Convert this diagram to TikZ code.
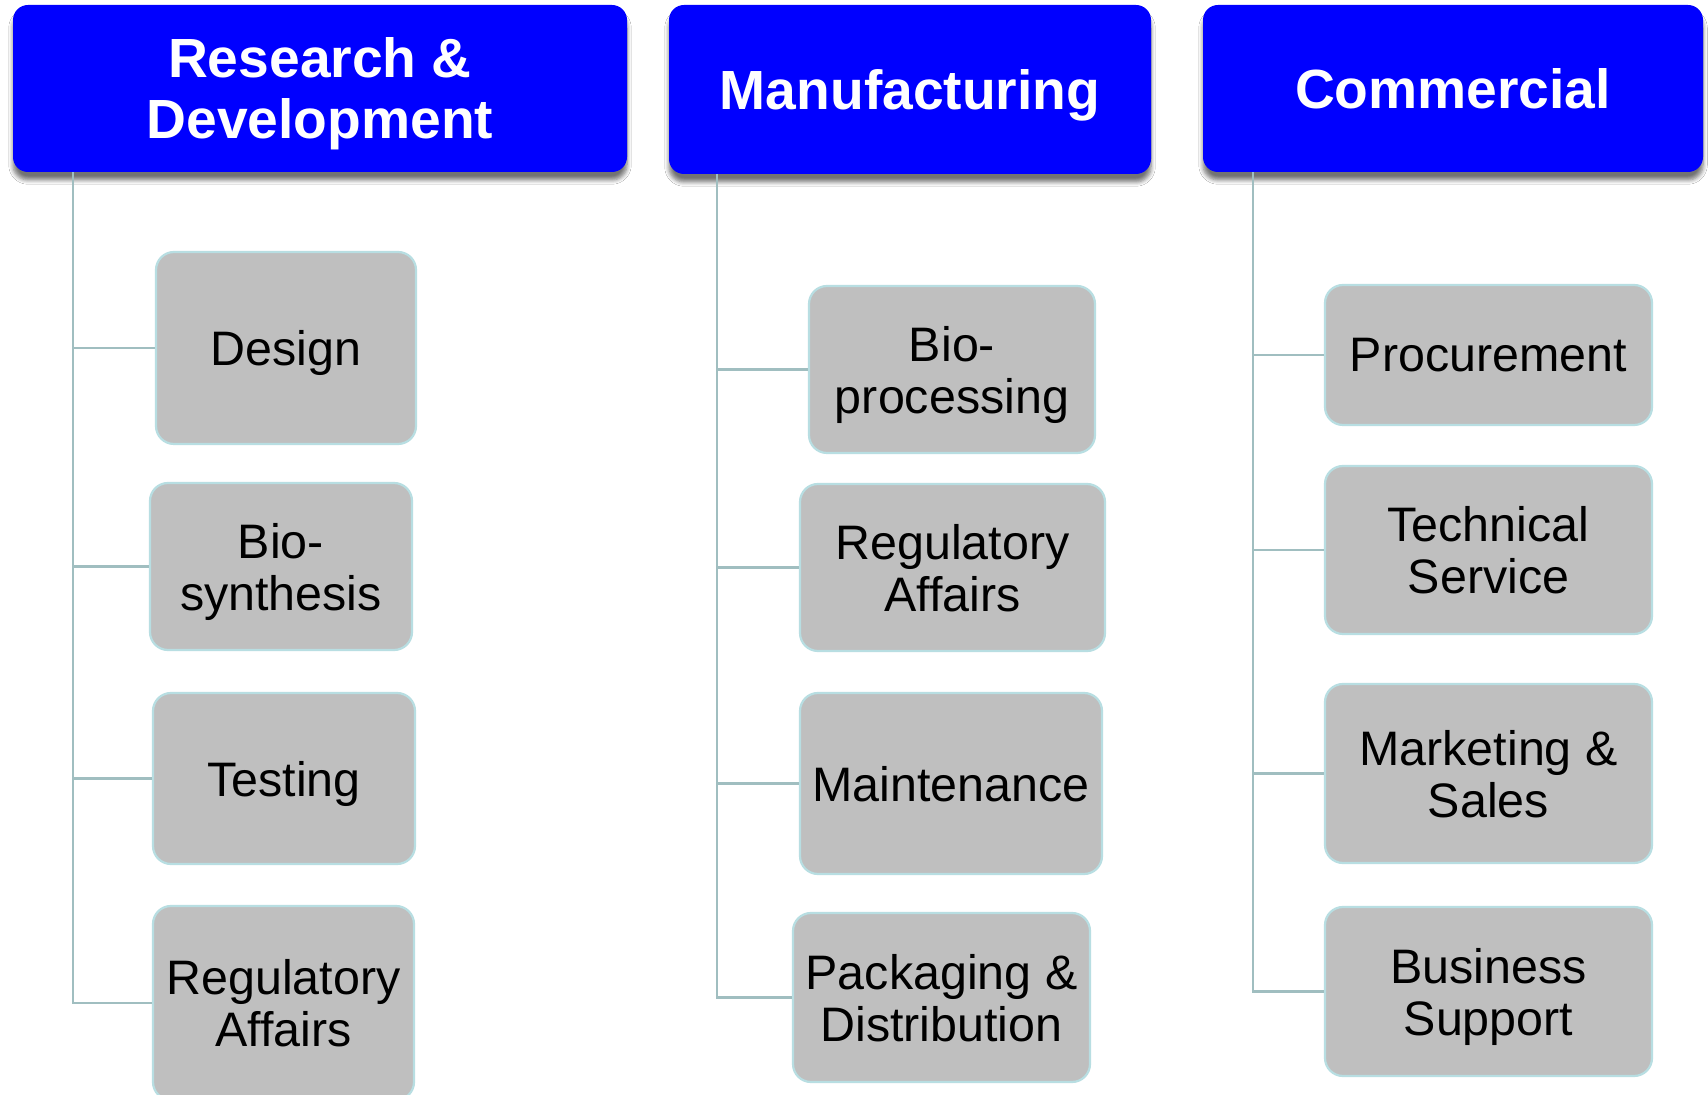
\documentclass[tikz,border=0pt]{standalone}
\usepackage{fontspec}
\setmainfont{Liberation Sans}
\usetikzlibrary{shadows.blur}
\definecolor{hdrblue}{RGB}{0,0,255}
\definecolor{boxgray}{RGB}{191,191,191}
\definecolor{boxedge}{RGB}{184,222,226}
\definecolor{connclr}{RGB}{160,190,192}
\tikzset{
  hdr/.style={draw=none, fill=hdrblue, rounded corners=7.5pt, inner sep=0pt, text depth=0pt,
    text=white, align=center, font=\fontsize{27.6}{30.5}\selectfont\bfseries,
    blur shadow={shadow xshift=0pt, shadow yshift=-4pt, shadow blur steps=6, shadow opacity=55}},
  item/.style={draw=boxedge, line width=1.1pt, fill=boxgray, rounded corners=9pt, inner sep=0pt, text depth=0pt,
    text=black, align=center, font=\fontsize{24.2}{26}\selectfont},
  conn/.style={draw=connclr, line width=1.3pt}
}
\begin{document}
\begin{tikzpicture}[x=0.5pt,y=-0.5pt]
\useasboundingbox (0,0) rectangle (1708,1095);
\fill[white] (0,0) rectangle (1708,1095);
% headers
\node[hdr, minimum width=307pt, minimum height=83.5pt] (rd) at (320,88.5) {Research \&\\Development};
\node[hdr, minimum width=241pt, minimum height=84.5pt] (mf) at (910,89.5) {Manufacturing};
\node[hdr, minimum width=250pt, minimum height=83.5pt] (cm) at (1453,88.5) {Commercial};
% trunk tops
\coordinate (rdt) at (73,172);
\coordinate (mft) at (717,174);
\coordinate (cmt) at (1253,172);
% R&D items
\node[item, minimum width=130pt, minimum height=96pt] (design) at (286,348) {Design};
\node[item, minimum width=131pt, minimum height=83.5pt] (biosyn) at (281,566.5) {Bio-\\synthesis};
\node[item, minimum width=131pt, minimum height=85.5pt] (testing) at (284,778.5) {Testing};
\node[item, minimum width=130.5pt, minimum height=97pt] (regrd) at (283.5,1003) {Regulatory\\Affairs};
% Manufacturing items
\node[item, minimum width=143pt, minimum height=83.5pt] (bioproc) at (952,369.5) {Bio-\\processing};
\node[item, minimum width=152.5pt, minimum height=83.5pt] (regmf) at (952.5,567.5) {Regulatory\\Affairs};
\node[item, minimum width=151pt, minimum height=90.5pt] (maint) at (951,783.5) {Maintenance};
\node[item, minimum width=148.5pt, minimum height=84.5pt] (packdist) at (941.5,997.5) {Packaging \&\\Distribution};
% Commercial items
\node[item, minimum width=163.5pt, minimum height=70pt] (procure) at (1488.5,355) {Procurement};
\node[item, minimum width=163.5pt, minimum height=84pt] (techserv) at (1488.5,550) {Technical\\Service};
\node[item, minimum width=163.5pt, minimum height=89.5pt] (marksales) at (1488.5,773.5) {Marketing \&\\Sales};
\node[item, minimum width=163.5pt, minimum height=84.5pt] (bussupp) at (1488.5,991.5) {Business\\Support};
% connectors
\draw[conn] (rdt) |- (regrd.west);
\draw[conn] (rdt |- design.west) -- (design.west);
\draw[conn] (rdt |- biosyn.west) -- (biosyn.west);
\draw[conn] (rdt |- testing.west) -- (testing.west);
\draw[conn] (mft) |- (packdist.west);
\draw[conn] (mft |- bioproc.west) -- (bioproc.west);
\draw[conn] (mft |- regmf.west) -- (regmf.west);
\draw[conn] (mft |- maint.west) -- (maint.west);
\draw[conn] (cmt) |- (bussupp.west);
\draw[conn] (cmt |- procure.west) -- (procure.west);
\draw[conn] (cmt |- techserv.west) -- (techserv.west);
\draw[conn] (cmt |- marksales.west) -- (marksales.west);
\end{tikzpicture}
\end{document}
